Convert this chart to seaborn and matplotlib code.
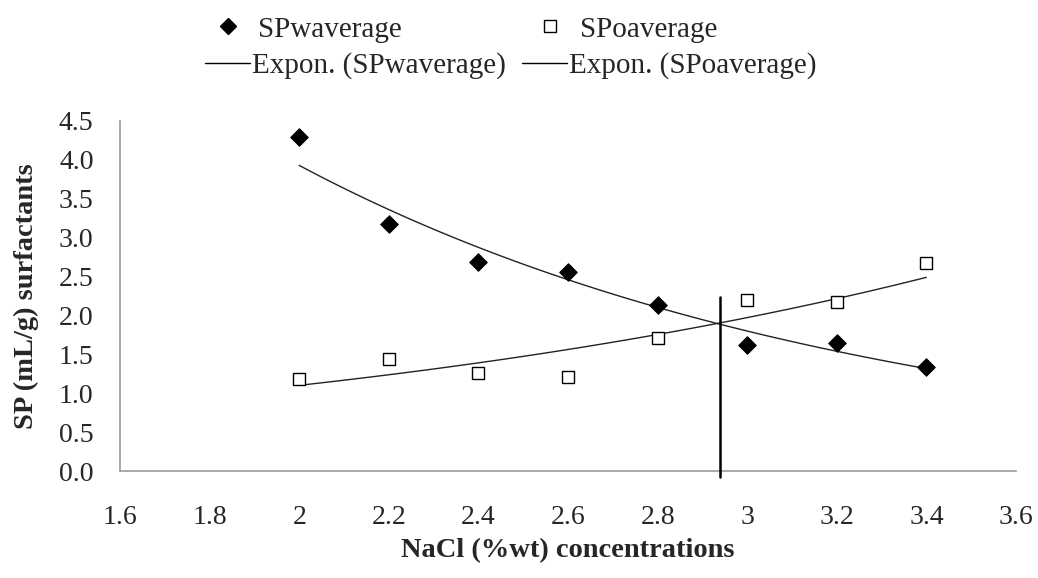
import numpy as np
import pandas as pd
import matplotlib
matplotlib.use("Agg")
import matplotlib.pyplot as plt
from matplotlib.lines import Line2D
from matplotlib.ticker import MultipleLocator, FormatStrFormatter
import seaborn as sns

# data
nacl = [2.0, 2.2, 2.4, 2.6, 2.8, 3.0, 3.2, 3.4]
sp_w = [4.29, 3.17, 2.69, 2.56, 2.13, 1.62, 1.65, 1.34]
sp_o = [1.18, 1.44, 1.26, 1.21, 1.71, 2.20, 2.17, 2.67]
cross_x = 2.94      # vertical marker line
cross_top = 2.24

x_ticks = [1.6, 1.8, 2.0, 2.2, 2.4, 2.6, 2.8, 3.0, 3.2, 3.4, 3.6]
x_tick_labels = ["1.6", "1.8", "2", "2.2", "2.4", "2.6", "2.8", "3", "3.2", "3.4", "3.6"]

df = pd.DataFrame({"nacl": nacl, "sp_w": sp_w, "sp_o": sp_o})

# exponential trendlines (same as Excel "Expon.")
def expon_fit(x, y):
    b, a = np.polyfit(np.asarray(x), np.log(np.asarray(y)), 1)
    xs = np.linspace(min(x), max(x), 60)
    return pd.DataFrame({"x": xs, "y": np.exp(a) * np.exp(b * xs)})

fit_w = expon_fit(nacl, sp_w)
fit_o = expon_fit(nacl, sp_o)

sns.set_style("white")
plt.rcParams["font.family"] = ["Liberation Serif", "DejaVu Serif"]

fig = plt.figure(figsize=(10.38, 5.78), dpi=100)
ax = fig.add_axes([0.1156, 0.185, 0.8632, 0.606])

sns.lineplot(data=fit_w, x="x", y="y", ax=ax, color="#222222", lw=1.0)
sns.lineplot(data=fit_o, x="x", y="y", ax=ax, color="#222222", lw=1.0)
sns.scatterplot(data=df, x="nacl", y="sp_w", ax=ax, marker="D", s=80,
                color="black", edgecolor="black", zorder=3)
sns.scatterplot(data=df, x="nacl", y="sp_o", ax=ax, marker="s", s=80,
                facecolor="white", edgecolor="black", linewidth=1.0, zorder=3)
ax.plot([cross_x, cross_x], [-0.07, cross_top], color="black", lw=1.8,
        clip_on=False, zorder=4)

ax.set_xlim(1.6, 3.6)
ax.set_ylim(0, 4.5)
ax.set_xticks(x_ticks)
ax.set_xticklabels(x_tick_labels)
ax.xaxis.set_minor_locator(MultipleLocator(0.1))
ax.yaxis.set_major_locator(MultipleLocator(0.5))
ax.yaxis.set_major_formatter(FormatStrFormatter("%.1f"))

ax.tick_params(axis="x", which="both", direction="inout", length=11,
               width=1, color="#999999", labelsize=20, pad=19)
ax.tick_params(axis="y", length=0, labelsize=20, pad=19)

for side in ["top", "right"]:
    ax.spines[side].set_visible(False)
for side in ["left", "bottom"]:
    ax.spines[side].set_color("#999999")
    ax.spines[side].set_linewidth(1.2)

ax.set_xlabel("NaCl (%wt) concentrations", fontsize=20.5, fontweight="bold",
              labelpad=6)
ax.set_ylabel("SP (mL/g) surfactants", fontsize=20.5, fontweight="bold",
              labelpad=14)

# legend: markers row and trendline row
mk_handles = [
    Line2D([], [], marker="D", ls="none", color="black", markersize=8.5),
    Line2D([], [], marker="s", ls="none", markerfacecolor="white",
           markeredgecolor="black", markersize=8.5),
]
fig.legend(mk_handles, ["SPwaverage", "SPoaverage"], ncol=2, frameon=False,
           loc="center left", bbox_to_anchor=(0.2004, 0.949), fontsize=21,
           borderpad=0, borderaxespad=0, handlelength=1.37,
           handletextpad=0.34, columnspacing=4.4)
ln_handles = [Line2D([], [], color="black", lw=1.0),
              Line2D([], [], color="black", lw=1.0)]
fig.legend(ln_handles, ["Expon. (SPwaverage)", "Expon. (SPoaverage)"], ncol=2,
           frameon=False, loc="center left", bbox_to_anchor=(0.1975, 0.886),
           fontsize=21, borderpad=0, borderaxespad=0, handlelength=1.54,
           handletextpad=0.08, columnspacing=0.55)

fig.savefig("out.png", dpi=100)
